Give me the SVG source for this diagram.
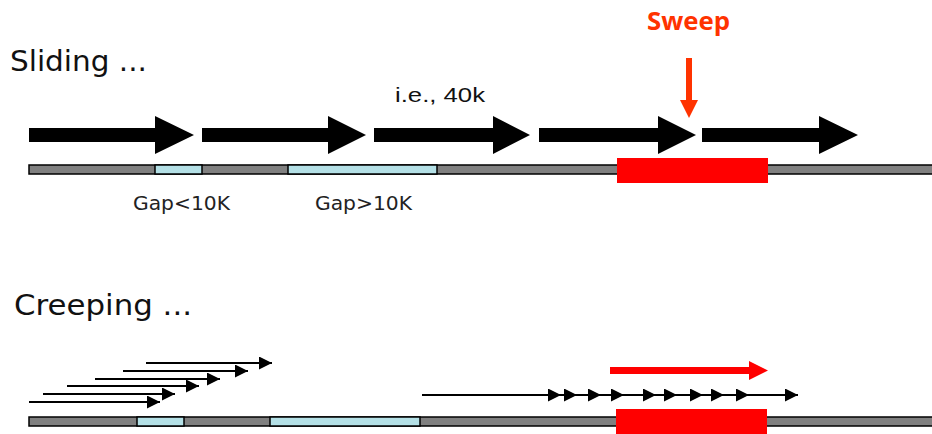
<svg xmlns="http://www.w3.org/2000/svg" width="932" height="434" viewBox="0 0 932 434">
  <style>
    .title { font-family: "DejaVu Sans", "Liberation Sans", sans-serif; font-size: 28px; fill: #111; }
    .gap { font-family: "DejaVu Sans", "Liberation Sans", sans-serif; font-size: 19px; fill: #222; }
    .ie { font-family: "Liberation Sans", Arial, sans-serif; font-size: 21px; fill: #111; }
    .sweep { font-family: "Open Sans", "DejaVu Sans", sans-serif; font-weight: bold; font-size: 25px; fill: #ff3300; }
    .big { fill: #000; }
    .bar { fill: #808080; stroke: #000; stroke-width: 1.5; }
    .gapseg { fill: #b4e0e6; stroke: #000; stroke-width: 1.5; }
    .sweepbox { fill: #ff0000; }
    .thin { stroke: #000; stroke-width: 2; fill: none; }
  </style>
  <defs>
    <marker id="ah" markerUnits="userSpaceOnUse" markerWidth="14" markerHeight="14" refX="13" refY="6.5" orient="auto">
      <path d="M0,0 L13,6.5 L0,13 z" fill="#000"/>
    </marker>
  </defs>

  <rect width="932" height="434" fill="#fff"/>

  <g id="label-sliding"><text class="title" x="10" y="71" textLength="137" lengthAdjust="spacingAndGlyphs">Sliding ...</text></g>
  <g id="label-ie"><text class="ie" x="395" y="102" textLength="90" lengthAdjust="spacingAndGlyphs">i.e., 40k</text></g>
  <g id="label-sweep"><text class="sweep" x="647" y="30" textLength="83" lengthAdjust="spacingAndGlyphs">Sweep</text></g>
  <g id="label-gap-small"><text class="gap" x="133" y="210" textLength="97" lengthAdjust="spacingAndGlyphs">Gap&lt;10K</text></g>
  <g id="label-gap-large"><text class="gap" x="315" y="210" textLength="97" lengthAdjust="spacingAndGlyphs">Gap&gt;10K</text></g>
  <g id="label-creeping"><text class="title" x="14" y="315" textLength="178" lengthAdjust="spacingAndGlyphs">Creeping ...</text></g>

  <g id="sliding-genome">
    <rect class="bar" x="29" y="165" width="910" height="9"/>
    <rect class="gapseg" x="155" y="165" width="47" height="9"/>
    <rect class="gapseg" x="288" y="165" width="149" height="9"/>
    <rect class="sweepbox" x="617" y="158" width="151" height="25"/>
  </g>

  <g id="sliding-windows">
    <polygon class="big" points="29,128 155,128 155,116 194,135 155,154 155,142 29,142"/>
    <polygon class="big" points="202,128 328,128 328,116 366,135 328,154 328,142 202,142"/>
    <polygon class="big" points="374,128 493,128 493,116 530,135 493,154 493,142 374,142"/>
    <polygon class="big" points="539,128 658,128 658,116 696,135 658,154 658,142 539,142"/>
    <polygon class="big" points="702,128 819,128 819,116 858,135 819,154 819,142 702,142"/>
  </g>

  <g id="sweep-pointer">
    <rect x="686" y="58" width="6" height="43" fill="#ff3300"/>
    <polygon points="680,100 698,100 689,118" fill="#ff3300"/>
  </g>

  <g id="creeping-genome">
    <rect class="bar" x="29" y="417" width="910" height="9"/>
    <rect class="gapseg" x="137" y="417" width="47" height="9"/>
    <rect class="gapseg" x="270" y="417" width="150" height="9"/>
    <rect class="sweepbox" x="616" y="409" width="151" height="30"/>
  </g>

  <g id="connectors">
    <line class="thin" x1="29" y1="402" x2="160" y2="402" marker-end="url(#ah)"/>
    <line class="thin" x1="43" y1="394" x2="175" y2="394" marker-end="url(#ah)"/>
    <line class="thin" x1="67" y1="386" x2="199" y2="386" marker-end="url(#ah)"/>
    <line class="thin" x1="95" y1="379" x2="220" y2="379" marker-end="url(#ah)"/>
    <line class="thin" x1="123" y1="371" x2="248" y2="371" marker-end="url(#ah)"/>
    <line class="thin" x1="146" y1="363" x2="272" y2="363" marker-end="url(#ah)"/>
    <polyline class="thin" points="422,395 561,395 577,395 601,395 624,395 656,395 677,395 703,395 724,395 749,395 798,395" marker-mid="url(#ah)" marker-end="url(#ah)"/>
  </g>

  <g id="sweep-direction">
    <polygon points="610,367 749,367 749,361 768,370.5 749,380 749,374 610,374" fill="#ff0000"/>
  </g>
</svg>
